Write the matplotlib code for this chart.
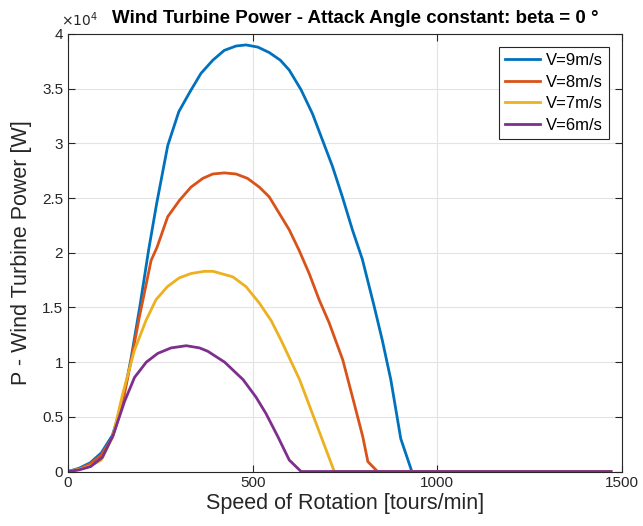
import numpy as np
import matplotlib.pyplot as plt
from matplotlib.ticker import FuncFormatter

plt.rcParams['font.family'] = ['Liberation Sans', 'DejaVu Sans']

# power values, in units of 10^4 W
rpm_9 = [0, 30, 60, 90, 120, 145, 170, 195, 218, 240, 270, 300, 330, 360, 392, 423, 455,
         482, 514, 545, 575, 599, 631, 662, 689, 716, 743, 770, 797, 829, 851, 874, 901, 931, 1470]
p_9 = [0, 0.03, 0.08, 0.17, 0.33, 0.6, 1.02, 1.52, 2.02, 2.45, 2.98, 3.29, 3.47, 3.64, 3.76, 3.85, 3.89,
       3.90, 3.88, 3.83, 3.76, 3.67, 3.49, 3.27, 3.03, 2.79, 2.51, 2.21, 1.94, 1.51, 1.20, 0.84, 0.30, 0, 0]

rpm_8 = [0, 30, 60, 90, 120, 145, 170, 193, 225, 241, 270, 302, 333, 365, 392, 423, 455, 486,
         518, 545, 572, 599, 626, 653, 680, 707, 744, 775, 798, 812, 838, 1470]
p_8 = [0, 0.02, 0.07, 0.15, 0.31, 0.58, 1.0, 1.41, 1.93, 2.05, 2.33, 2.48, 2.60, 2.68, 2.72, 2.73, 2.72, 2.68,
       2.60, 2.51, 2.36, 2.21, 2.02, 1.81, 1.57, 1.36, 1.02, 0.62, 0.32, 0.09, 0, 0]

rpm_7 = [0, 30, 60, 90, 121, 148, 180, 211, 238, 269, 301, 333, 369, 393, 446, 482, 518, 550, 577,
         627, 721, 1470]
p_7 = [0, 0.02, 0.05, 0.105, 0.32, 0.71, 1.11, 1.38, 1.57, 1.69, 1.77, 1.81, 1.83, 1.83, 1.78, 1.69, 1.54,
       1.38, 1.20, 0.84, 0, 0]

rpm_6 = [0, 30, 61, 93, 122, 153, 180, 212, 243, 279, 320, 356, 378, 424, 474, 509, 536, 568, 599,
         631, 1470]
p_6 = [0, 0.015, 0.045, 0.13, 0.33, 0.64, 0.86, 1.0, 1.08, 1.13, 1.15, 1.13, 1.10, 1.0, 0.84, 0.68,
       0.53, 0.32, 0.105, 0, 0]

labels = ['V=9m/s', 'V=8m/s', 'V=7m/s', 'V=6m/s']
colors = ['#0072BD', '#D95319', '#EDB120', '#7E2F8E']

fig = plt.figure(figsize=(6.43, 5.26), dpi=100)
ax = fig.add_axes([0.1058, 0.1036, 0.8615, 0.8318])

series = [(rpm_9, p_9), (rpm_8, p_8), (rpm_7, p_7), (rpm_6, p_6)]
for (x, y), lab, c in zip(series, labels, colors):
    ax.plot(x, y, color=c, lw=2, label=lab)

ax.set_xlim(0, 1500)
ax.set_ylim(0, 4)
ax.set_xticks([0, 500, 1000, 1500])
ax.set_yticks(np.arange(0, 4.01, 0.5))
ax.yaxis.set_major_formatter(FuncFormatter(lambda v, p: f'{v:g}'))
ax.grid(True, color='#e3e3e3', lw=0.8)
ax.set_axisbelow(True)
ax.tick_params(direction='in', length=5, top=True, right=True, labelsize=11, colors='#262626')
for s in ax.spines.values():
    s.set_color('#262626')

ax.set_xlabel('Speed of Rotation [tours/min]', fontsize=15.5, color='#262626', labelpad=2)
ax.set_ylabel('P - Wind Turbine Power [W]', fontsize=15.5, color='#262626', labelpad=7)
ax.text(-0.012, 1.012, r'$\times10^4$', transform=ax.transAxes, fontsize=10, color='#262626',
        ha='left', va='bottom', zorder=0)
ax.set_title('Wind Turbine Power - Attack Angle constant: beta = 0 °', fontsize=13.5,
             fontweight='bold', pad=8, x=0.518)

leg = ax.legend(loc='upper right', bbox_to_anchor=(0.977, 0.97), fontsize=12, fancybox=False,
                framealpha=1, edgecolor='#262626', handlelength=2.1, handletextpad=0.4,
                borderpad=0.35, labelspacing=0.4, borderaxespad=0)
leg.get_frame().set_linewidth(0.8)

fig.savefig('out.png', dpi=100)
